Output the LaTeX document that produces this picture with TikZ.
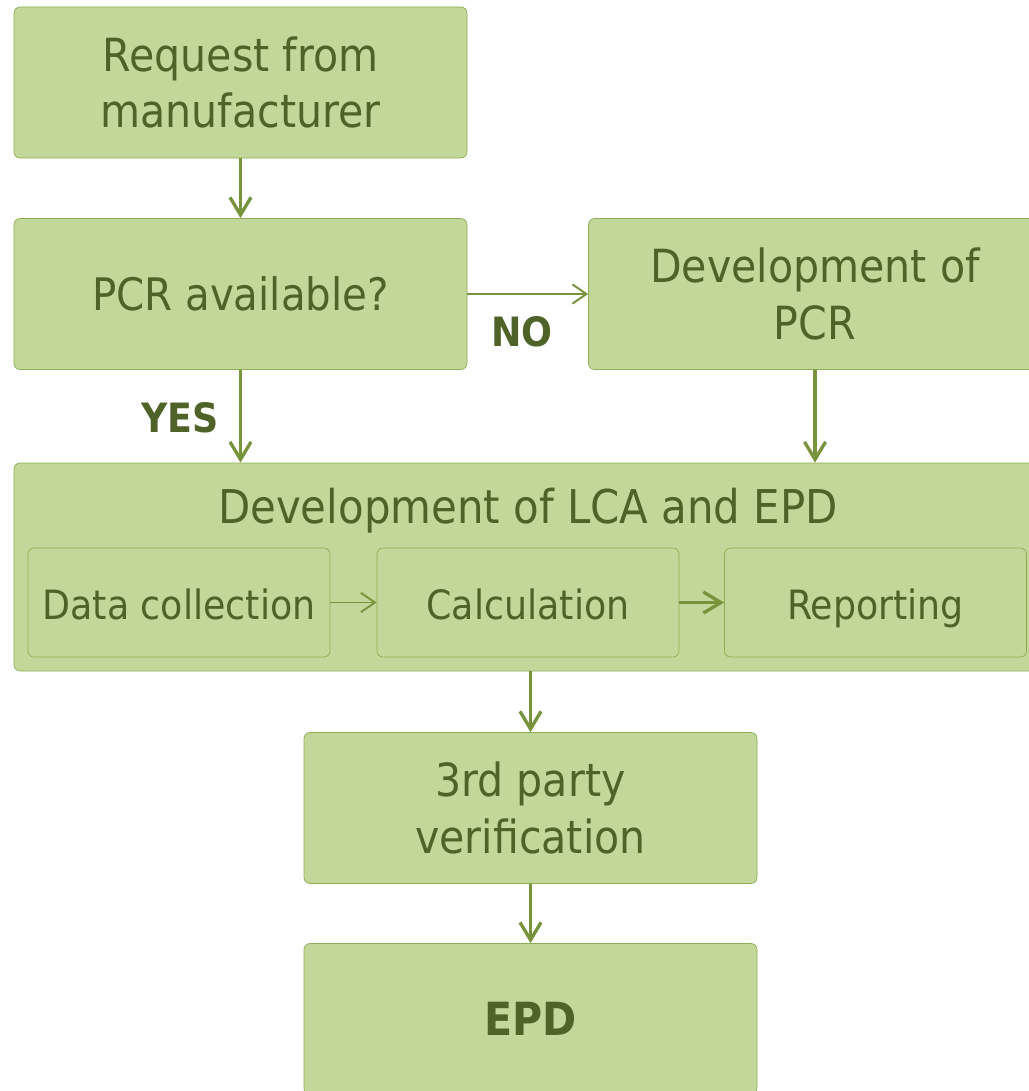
\documentclass[tikz,border=0pt]{standalone}
\usepackage{fontspec}
\setmainfont{DejaVu Sans Condensed}
\usetikzlibrary{arrows.meta}
\definecolor{olivefill}{RGB}{196,215,155}
\definecolor{oliveline}{RGB}{143,173,82}
\definecolor{olivearrow}{RGB}{119,147,60}
\definecolor{olivetext}{RGB}{79,98,40}

\begin{document}
\begin{tikzpicture}[
        box/.style={rectangle, draw=oliveline, fill=olivefill, rounded corners=3.5pt, minimum width=9.06cm, minimum height=3.02cm, inner sep=0pt, align=center, text=olivetext, font=\fontsize{26}{32}\selectfont},
        subbox/.style={box, minimum width=6.04cm, minimum height=2.18cm, text height=19.6pt, text depth=0pt, font=\fontsize{23}{28}\selectfont},
        answer/.style={text=olivetext, font=\bfseries\fontsize{23}{28}\selectfont},
        arrow/.style={-{Straight Barb[length=10pt, width=12pt]}, line width=1.9pt, olivearrow},
        thinarrow/.style={-{Straight Barb[length=8pt, width=11pt]}, line width=1.1pt, olivearrow}
      ]
        \useasboundingbox (0,0) rectangle (20.58,-21.82);

        \node[box] at (4.81, -1.65)  (request) {Request from\\manufacturer};
        \node[box, font=\fontsize{25.5}{31}\selectfont] at (4.81, -5.88) (pcr) {PCR available?};
        \node[box] at (16.3, -5.88)  (newpcr)  {Development of\\PCR};

        % LCA/EPD stage with its three sub steps
        \node[box, minimum width=20.54cm, minimum height=4.16cm] at (10.55, -11.34) (lca) {};
        \node[text=olivetext, font=\fontsize{26.5}{32}\selectfont, anchor=base] at (10.56, -10.46) (lcatitle) {Development of LCA and EPD};
        \node[subbox] at (3.58, -12.05)  (data)   {Data collection};
        \node[subbox] at (10.56, -12.05) (calc)   {Calculation};
        \node[subbox] at (17.51, -12.05) (report) {Reporting};

        \node[box] at (10.61, -16.16) (verify) {3rd party\\verification};
        \node[box, font=\bfseries\fontsize{26}{32}\selectfont] at (10.61, -20.38) (epd) {EPD};

        \node[answer] at (3.6, -8.36)  (yes) {YES};
        \node[answer] at (10.44, -6.64) (no)  {NO};

        \draw[arrow] (request) -- (pcr);
        \draw[thinarrow] (pcr.east) -- (newpcr.west);
        \draw[arrow] (pcr.south) -- (pcr.south |- lca.north);
        \draw[arrow] (newpcr.south) -- (newpcr.south |- lca.north);
        \draw[thinarrow] (data.east) -- (calc.west);
        \draw[arrow] (calc.east) -- (report.west);
        \draw[arrow] (verify.north |- lca.south) -- (verify.north);
        \draw[arrow] (verify) -- (epd);
      \end{tikzpicture}
\end{document}
